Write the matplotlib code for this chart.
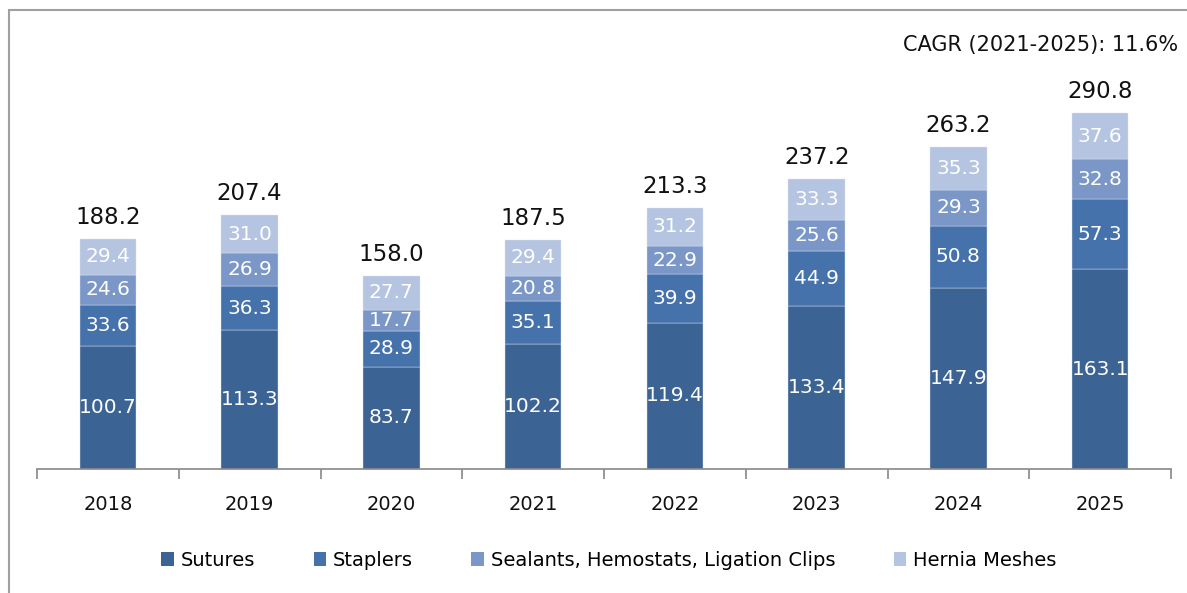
import matplotlib
matplotlib.use("Agg")
import matplotlib.pyplot as plt
import numpy as np
from matplotlib.patches import Rectangle

years = ["2018", "2019", "2020", "2021", "2022", "2023", "2024", "2025"]
sutures = [100.7, 113.3, 83.7, 102.2, 119.4, 133.4, 147.9, 163.1]
staplers = [33.6, 36.3, 28.9, 35.1, 39.9, 44.9, 50.8, 57.3]
sealants = [24.6, 26.9, 17.7, 20.8, 22.9, 25.6, 29.3, 32.8]
hernia = [29.4, 31.0, 27.7, 29.4, 31.2, 33.3, 35.3, 37.6]
totals = [188.2, 207.4, 158.0, 187.5, 213.3, 237.2, 263.2, 290.8]
series_names = ["Sutures", "Staplers", "Sealants, Hemostats, Ligation Clips", "Hernia Meshes"]
colors = ["#3B6394", "#4572AB", "#7A97C7", "#B4C4E1"]
cagr_text = "CAGR (2021-2025): 11.6%"

fig = plt.figure(figsize=(11.87, 5.93), dpi=100)
W, H = 1187, 593
ax = fig.add_axes([37 / W, (H - 469) / H, (1171 - 37) / W, (469 - 53) / H])

x = np.arange(len(years))
bottom = np.zeros(len(years))
for vals, c in zip([sutures, staplers, sealants, hernia], colors):
    ax.bar(x, vals, width=0.40, bottom=bottom, color=c, edgecolor="#DDE4F0", linewidth=0.3, zorder=2)
    for xi, b, v in zip(x, bottom, vals):
        ax.text(xi, b + v / 2, f"{v:.1f}", ha="center", va="center", color="white",
                fontsize=14.5, family="DejaVu Sans", zorder=3)
    bottom += np.array(vals)

for xi, t, b in zip(x, totals, bottom):
    ax.text(xi, b + 8, f"{t:.1f}", ha="center", va="bottom", color="#111111",
            fontsize=16.5, family="DejaVu Sans")

ax.set_xlim(-0.5, len(years) - 0.5)
ax.set_ylim(0, 340)
for s in ["top", "right", "left"]:
    ax.spines[s].set_visible(False)
ax.spines["bottom"].set_color("#888888")
ax.spines["bottom"].set_linewidth(1.2)
ax.set_yticks([])
ax.set_xticks(x)
ax.set_xticklabels(years, fontsize=14, family="DejaVu Sans", color="#111111")
ax.tick_params(axis="x", which="major", length=0, pad=19)
ax.set_xticks(np.arange(-0.5, len(years)), minor=True)
ax.tick_params(axis="x", which="minor", length=7, color="#888888", width=1.2)

fig.text(1178 / W, 1 - 45 / H, cagr_text, ha="right", va="center", fontsize=15,
         family="DejaVu Sans", color="#111111")

handles = [Rectangle((0, 0), 1, 1, facecolor=c, edgecolor="none") for c in colors]
leg = fig.legend(handles, series_names, loc="center", bbox_to_anchor=(609 / W, 1 - 560 / H),
                 ncol=4, frameon=False, handlelength=0.65, handleheight=0.7,
                 handletextpad=0.35, columnspacing=3.0, prop={"family": "DejaVu Sans", "size": 14})

fig.patches.append(Rectangle((9 / W, -0.1), 1.2, 1 - 10 / H + 0.1, transform=fig.transFigure,
                             fill=False, edgecolor="#A0A0A0", linewidth=1.5))

fig.savefig("out.png", dpi=100)
